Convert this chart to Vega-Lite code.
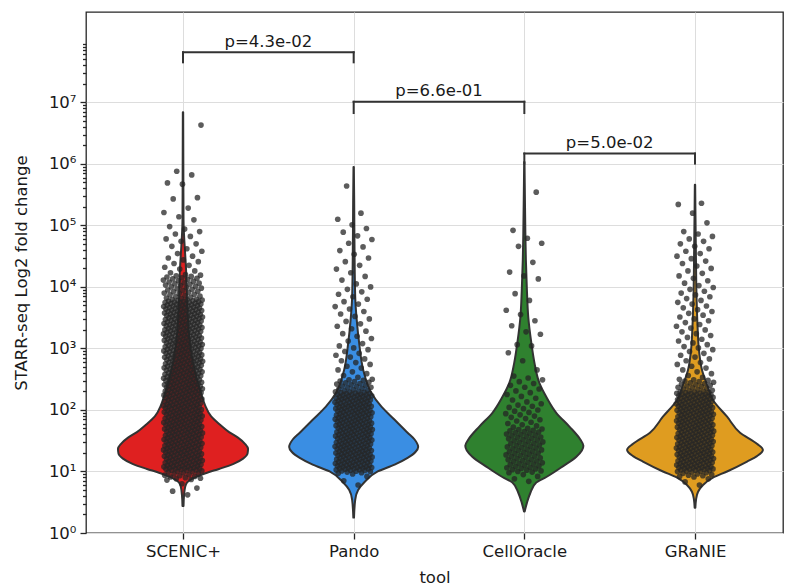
{
"$schema":"https://vega.github.io/schema/vega-lite/v6.json",
"width":697,"height":521,
"autosize":{"type":"none"},
"padding":{"left":86,"top":12,"right":3,"bottom":53},
"config":{
 "font":"DejaVu Sans",
 "view":{"stroke":"#262626","strokeWidth":1.3},
 "axis":{"labelFont":"DejaVu Sans","titleFont":"DejaVu Sans","labelFontSize":16.5,"titleFontSize":16.5,"titleFontWeight":"normal","labelColor":"#1a1a1a","titleColor":"#1a1a1a","tickColor":"#262626","tickWidth":1.3,"gridColor":"#dddddd","gridWidth":1,"domain":false}
},
"datasets":{
"violin":[
{"tool":"SCENIC+","fc":2.75,"half":0.003},{"tool":"SCENIC+","fc":4.07,"half":0.006},{"tool":"SCENIC+","fc":5.5,"half":0.012},{"tool":"SCENIC+","fc":6.61,"half":0.023},{"tool":"SCENIC+","fc":7.59,"half":0.053},{"tool":"SCENIC+","fc":8.51,"half":0.094},{"tool":"SCENIC+","fc":9.55,"half":0.141},{"tool":"SCENIC+","fc":11.0,"half":0.211},{"tool":"SCENIC+","fc":13.2,"half":0.293},{"tool":"SCENIC+","fc":16.2,"half":0.352},{"tool":"SCENIC+","fc":19.5,"half":0.378},{"tool":"SCENIC+","fc":23.4,"half":0.381},{"tool":"SCENIC+","fc":28.2,"half":0.363},{"tool":"SCENIC+","fc":35.5,"half":0.322},{"tool":"SCENIC+","fc":43.7,"half":0.27},{"tool":"SCENIC+","fc":57.5,"half":0.217},{"tool":"SCENIC+","fc":79.4,"half":0.164},{"tool":"SCENIC+","fc":120,"half":0.129},{"tool":"SCENIC+","fc":191,"half":0.105},{"tool":"SCENIC+","fc":309,"half":0.082},{"tool":"SCENIC+","fc":646,"half":0.056},{"tool":"SCENIC+","fc":1380,"half":0.038},{"tool":"SCENIC+","fc":4270,"half":0.026},{"tool":"SCENIC+","fc":18600,"half":0.018},{"tool":"SCENIC+","fc":123000,"half":0.003},{"tool":"SCENIC+","fc":794000,"half":0.002},{"tool":"SCENIC+","fc":6920000,"half":0.001},
{"tool":"Pando","fc":1.78,"half":0.002},{"tool":"Pando","fc":3.47,"half":0.009},{"tool":"Pando","fc":5.01,"half":0.026},{"tool":"Pando","fc":6.76,"half":0.064},{"tool":"Pando","fc":10,"half":0.141},{"tool":"Pando","fc":12.9,"half":0.24},{"tool":"Pando","fc":16.6,"half":0.316},{"tool":"Pando","fc":20.9,"half":0.363},{"tool":"Pando","fc":25.1,"half":0.378},{"tool":"Pando","fc":33.1,"half":0.357},{"tool":"Pando","fc":42.7,"half":0.316},{"tool":"Pando","fc":69.2,"half":0.24},{"tool":"Pando","fc":112,"half":0.164},{"tool":"Pando","fc":191,"half":0.103},{"tool":"Pando","fc":447,"half":0.056},{"tool":"Pando","fc":1230,"half":0.032},{"tool":"Pando","fc":2880,"half":0.018},{"tool":"Pando","fc":6920,"half":0.009},{"tool":"Pando","fc":39800,"half":0.005},{"tool":"Pando","fc":257000,"half":0.003},{"tool":"Pando","fc":891000,"half":0.001},
{"tool":"CellOracle","fc":2.24,"half":0.002},{"tool":"CellOracle","fc":3.09,"half":0.015},{"tool":"CellOracle","fc":4.47,"half":0.035},{"tool":"CellOracle","fc":6.61,"half":0.07},{"tool":"CellOracle","fc":8.13,"half":0.129},{"tool":"CellOracle","fc":12,"half":0.223},{"tool":"CellOracle","fc":17.4,"half":0.305},{"tool":"CellOracle","fc":21.9,"half":0.337},{"tool":"CellOracle","fc":26.3,"half":0.346},{"tool":"CellOracle","fc":33.1,"half":0.328},{"tool":"CellOracle","fc":53.7,"half":0.264},{"tool":"CellOracle","fc":89.1,"half":0.188},{"tool":"CellOracle","fc":162,"half":0.129},{"tool":"CellOracle","fc":275,"half":0.088},{"tool":"CellOracle","fc":589,"half":0.059},{"tool":"CellOracle","fc":1230,"half":0.041},{"tool":"CellOracle","fc":3240,"half":0.023},{"tool":"CellOracle","fc":8910,"half":0.015},{"tool":"CellOracle","fc":27500,"half":0.009},{"tool":"CellOracle","fc":75900,"half":0.006},{"tool":"CellOracle","fc":257000,"half":0.0035},{"tool":"CellOracle","fc":1070000,"half":0.001},
{"tool":"GRaNIE","fc":2.57,"half":0.002},{"tool":"GRaNIE","fc":3.47,"half":0.006},{"tool":"GRaNIE","fc":4.68,"half":0.018},{"tool":"GRaNIE","fc":6.03,"half":0.047},{"tool":"GRaNIE","fc":7.94,"half":0.105},{"tool":"GRaNIE","fc":10,"half":0.188},{"tool":"GRaNIE","fc":14.5,"half":0.305},{"tool":"GRaNIE","fc":17.8,"half":0.363},{"tool":"GRaNIE","fc":22.4,"half":0.398},{"tool":"GRaNIE","fc":28.2,"half":0.363},{"tool":"GRaNIE","fc":42.7,"half":0.264},{"tool":"GRaNIE","fc":77.6,"half":0.188},{"tool":"GRaNIE","fc":145,"half":0.105},{"tool":"GRaNIE","fc":257,"half":0.07},{"tool":"GRaNIE","fc":447,"half":0.041},{"tool":"GRaNIE","fc":955,"half":0.023},{"tool":"GRaNIE","fc":2240,"half":0.015},{"tool":"GRaNIE","fc":6920,"half":0.009},{"tool":"GRaNIE","fc":39800,"half":0.005},{"tool":"GRaNIE","fc":457000,"half":0.001}
],
"pts_scenic":[
{"fc":4.17},{"fc":4.79},{"fc":5.37},{"fc":6.31},{"fc":7.24},{"fc":7.41},{"fc":7.59},{"fc":7.76},{"fc":7.94},{"fc":8.13},{"fc":8.32},{"fc":8.51},{"fc":8.71},{"fc":8.91},{"fc":9.12},{"fc":9.33},{"fc":9.55},{"fc":9.77},{"fc":10.0},
{"fc":10.1},{"fc":10.2},{"fc":10.4},{"fc":10.5},{"fc":10.6},{"fc":10.7},{"fc":10.9},{"fc":11.0},{"fc":11.1},{"fc":11.2},{"fc":11.4},{"fc":11.5},{"fc":11.6},{"fc":11.7},{"fc":11.9},{"fc":12.0},{"fc":12.2},{"fc":12.3},{"fc":12.4},{"fc":12.6},
{"fc":12.7},{"fc":12.9},{"fc":13.0},{"fc":13.2},{"fc":13.3},{"fc":13.5},{"fc":13.7},{"fc":13.8},{"fc":14.0},{"fc":14.1},{"fc":14.3},{"fc":14.5},{"fc":14.6},{"fc":14.8},{"fc":15.0},{"fc":15.1},{"fc":15.3},{"fc":15.5},{"fc":15.7},{"fc":15.8},
{"fc":16.0},{"fc":16.2},{"fc":16.4},{"fc":16.6},{"fc":16.8},{"fc":17.0},{"fc":17.2},{"fc":17.4},{"fc":17.6},{"fc":17.8},{"fc":18.0},{"fc":18.2},{"fc":18.4},{"fc":18.6},{"fc":18.8},{"fc":19.1},{"fc":19.3},{"fc":19.5},{"fc":19.7},{"fc":20.0},
{"fc":20.2},{"fc":20.4},{"fc":20.7},{"fc":20.9},{"fc":21.1},{"fc":21.4},{"fc":21.6},{"fc":21.9},{"fc":22.1},{"fc":22.4},{"fc":22.6},{"fc":22.9},{"fc":23.2},{"fc":23.4},{"fc":23.7},{"fc":24.0},{"fc":24.3},{"fc":24.5},{"fc":24.8},{"fc":25.1},
{"fc":25.4},{"fc":25.7},{"fc":26.0},{"fc":26.3},{"fc":26.6},{"fc":26.9},{"fc":27.2},{"fc":27.5},{"fc":27.9},{"fc":28.2},{"fc":28.5},{"fc":28.8},{"fc":29.2},{"fc":29.5},{"fc":29.9},{"fc":30.2},{"fc":30.6},{"fc":30.9},{"fc":31.3},{"fc":31.6},
{"fc":32.0},{"fc":32.4},{"fc":32.7},{"fc":33.1},{"fc":33.5},{"fc":33.9},{"fc":34.3},{"fc":34.7},{"fc":35.1},{"fc":35.5},{"fc":35.9},{"fc":36.3},{"fc":36.7},{"fc":37.2},{"fc":37.6},{"fc":38.0},{"fc":38.5},{"fc":38.9},{"fc":39.4},{"fc":39.8},
{"fc":40.3},{"fc":40.7},{"fc":41.2},{"fc":41.7},{"fc":42.2},{"fc":42.7},{"fc":43.2},{"fc":43.7},{"fc":44.2},{"fc":44.7},{"fc":45.2},{"fc":45.7},{"fc":46.3},{"fc":46.8},{"fc":47.4},{"fc":47.9},{"fc":48.5},{"fc":49.0},{"fc":49.6},{"fc":50.1},
{"fc":50.7},{"fc":51.3},{"fc":51.9},{"fc":52.5},{"fc":53.1},{"fc":53.7},{"fc":54.3},{"fc":55.0},{"fc":55.6},{"fc":56.2},{"fc":56.9},{"fc":57.5},{"fc":58.2},{"fc":58.9},{"fc":59.6},{"fc":60.3},{"fc":61.0},{"fc":61.7},{"fc":62.4},{"fc":63.1},
{"fc":63.8},{"fc":64.6},{"fc":65.3},{"fc":66.1},{"fc":66.8},{"fc":67.6},{"fc":68.4},{"fc":69.2},{"fc":70.0},{"fc":70.8},{"fc":71.6},{"fc":72.4},{"fc":73.3},{"fc":74.1},{"fc":75.0},{"fc":75.9},{"fc":76.7},{"fc":77.6},{"fc":78.5},{"fc":79.4},
{"fc":80.4},{"fc":81.3},{"fc":82.2},{"fc":83.2},{"fc":84.1},{"fc":85.1},{"fc":86.1},{"fc":87.1},{"fc":88.1},{"fc":89.1},{"fc":90.2},{"fc":91.2},{"fc":92.3},{"fc":93.3},{"fc":94.4},{"fc":95.5},{"fc":96.6},{"fc":97.7},{"fc":98.9},{"fc":100},
{"fc":101},{"fc":102},{"fc":104},{"fc":105},{"fc":106},{"fc":107},{"fc":109},{"fc":110},{"fc":111},{"fc":112},{"fc":114},{"fc":115},{"fc":116},{"fc":117},{"fc":119},{"fc":120},{"fc":122},{"fc":123},{"fc":124},{"fc":126},
{"fc":127},{"fc":129},{"fc":130},{"fc":132},{"fc":133},{"fc":135},{"fc":137},{"fc":138},{"fc":140},{"fc":141},{"fc":143},{"fc":145},{"fc":146},{"fc":148},{"fc":150},{"fc":151},{"fc":153},{"fc":155},{"fc":157},{"fc":158},
{"fc":160},{"fc":162},{"fc":164},{"fc":166},{"fc":168},{"fc":170},{"fc":172},{"fc":174},{"fc":176},{"fc":178},{"fc":180},{"fc":182},{"fc":184},{"fc":186},{"fc":188},{"fc":191},{"fc":193},{"fc":195},{"fc":197},{"fc":200},
{"fc":202},{"fc":204},{"fc":207},{"fc":209},{"fc":211},{"fc":214},{"fc":216},{"fc":219},{"fc":221},{"fc":224},{"fc":226},{"fc":229},{"fc":232},{"fc":234},{"fc":237},{"fc":240},{"fc":243},{"fc":245},{"fc":248},{"fc":251},
{"fc":254},{"fc":257},{"fc":260},{"fc":263},{"fc":266},{"fc":269},{"fc":272},{"fc":275},{"fc":279},{"fc":282},{"fc":285},{"fc":288},{"fc":292},{"fc":295},{"fc":299},{"fc":302},{"fc":306},{"fc":309},{"fc":313},{"fc":316},
{"fc":320},{"fc":324},{"fc":327},{"fc":331},{"fc":335},{"fc":339},{"fc":343},{"fc":347},{"fc":351},{"fc":355},{"fc":359},{"fc":363},{"fc":367},{"fc":372},{"fc":376},{"fc":380},{"fc":385},{"fc":389},{"fc":394},{"fc":398},
{"fc":403},{"fc":407},{"fc":412},{"fc":417},{"fc":422},{"fc":427},{"fc":432},{"fc":437},{"fc":442},{"fc":447},{"fc":452},{"fc":457},{"fc":463},{"fc":468},{"fc":474},{"fc":479},{"fc":485},{"fc":490},{"fc":496},{"fc":501},
{"fc":507},{"fc":513},{"fc":519},{"fc":525},{"fc":531},{"fc":537},{"fc":543},{"fc":550},{"fc":556},{"fc":562},{"fc":569},{"fc":575},{"fc":582},{"fc":589},{"fc":596},{"fc":603},{"fc":610},{"fc":617},{"fc":624},{"fc":631},
{"fc":638},{"fc":646},{"fc":653},{"fc":661},{"fc":668},{"fc":676},{"fc":684},{"fc":692},{"fc":700},{"fc":708},{"fc":716},{"fc":724},{"fc":733},{"fc":741},{"fc":750},{"fc":759},{"fc":767},{"fc":776},{"fc":785},{"fc":794},
{"fc":804},{"fc":813},{"fc":822},{"fc":832},{"fc":841},{"fc":851},{"fc":861},{"fc":871},{"fc":881},{"fc":891},{"fc":902},{"fc":912},{"fc":923},{"fc":933},{"fc":944},{"fc":955},{"fc":966},{"fc":977},{"fc":989},{"fc":1000},
{"fc":1010},{"fc":1020},{"fc":1040},{"fc":1050},{"fc":1060},{"fc":1070},{"fc":1090},{"fc":1100},{"fc":1110},{"fc":1120},{"fc":1140},{"fc":1150},{"fc":1160},{"fc":1170},{"fc":1190},{"fc":1200},{"fc":1220},{"fc":1230},{"fc":1240},{"fc":1260},
{"fc":1270},{"fc":1290},{"fc":1300},{"fc":1320},{"fc":1330},{"fc":1350},{"fc":1370},{"fc":1380},{"fc":1400},{"fc":1410},{"fc":1430},{"fc":1450},{"fc":1460},{"fc":1480},{"fc":1500},{"fc":1510},{"fc":1530},{"fc":1550},{"fc":1570},{"fc":1580},
{"fc":1600},{"fc":1620},{"fc":1640},{"fc":1660},{"fc":1680},{"fc":1700},{"fc":1720},{"fc":1740},{"fc":1760},{"fc":1780},{"fc":1800},{"fc":1820},{"fc":1840},{"fc":1860},{"fc":1880},{"fc":1910},{"fc":1930},{"fc":1950},{"fc":1970},{"fc":2000},
{"fc":2020},{"fc":2040},{"fc":2070},{"fc":2090},{"fc":2110},{"fc":2140},{"fc":2160},{"fc":2190},{"fc":2210},{"fc":2240},{"fc":2260},{"fc":2290},{"fc":2320},{"fc":2340},{"fc":2370},{"fc":2400},{"fc":2430},{"fc":2450},{"fc":2480},{"fc":2510},
{"fc":2540},{"fc":2570},{"fc":2600},{"fc":2630},{"fc":2660},{"fc":2690},{"fc":2720},{"fc":2750},{"fc":2790},{"fc":2820},{"fc":2850},{"fc":2880},{"fc":2920},{"fc":2950},{"fc":2990},{"fc":3020},{"fc":3060},{"fc":3090},{"fc":3130},{"fc":3160},
{"fc":3200},{"fc":3240},{"fc":3270},{"fc":3310},{"fc":3350},{"fc":3390},{"fc":3430},{"fc":3470},{"fc":3510},{"fc":3550},{"fc":3590},{"fc":3630},{"fc":3670},{"fc":3720},{"fc":3760},{"fc":3800},{"fc":3850},{"fc":3890},{"fc":3940},{"fc":3980},
{"fc":4030},{"fc":4070},{"fc":4120},{"fc":4170},{"fc":4220},{"fc":4270},{"fc":4320},{"fc":4370},{"fc":4420},{"fc":4470},{"fc":4520},{"fc":4570},{"fc":4630},{"fc":4680},{"fc":4740},{"fc":4790},{"fc":4850},{"fc":4900},{"fc":4960},{"fc":5010},
{"fc":5070},{"fc":5130},{"fc":5190},{"fc":5250},{"fc":5310},{"fc":5370},{"fc":5430},{"fc":5500},{"fc":5560},{"fc":5620},{"fc":5690},{"fc":5750},{"fc":5820},{"fc":5890},{"fc":5960},{"fc":6030},{"fc":6100},{"fc":6170},{"fc":6240},{"fc":6310},
{"fc":6460},{"fc":6610},{"fc":6760},{"fc":6920},{"fc":7080},{"fc":7240},{"fc":7410},{"fc":7590},{"fc":7760},{"fc":7940},{"fc":8130},{"fc":8320},{"fc":8510},{"fc":8710},{"fc":8910},{"fc":9120},{"fc":9330},{"fc":9550},{"fc":9770},{"fc":10000},
{"fc":10200},{"fc":10500},{"fc":10700},{"fc":11000},{"fc":11200},{"fc":11500},{"fc":11700},{"fc":12000},{"fc":12300},{"fc":12600},{"fc":12900},{"fc":13200},{"fc":13500},{"fc":13800},{"fc":14100},{"fc":14500},{"fc":14800},{"fc":15100},{"fc":15500},{"fc":15800},
{"fc":17000},{"fc":18200},{"fc":19500},{"fc":20900},{"fc":22400},{"fc":24000},{"fc":25700},{"fc":27500},{"fc":29500},{"fc":31600},
{"fc":34700},{"fc":38000},{"fc":41700},{"fc":45700},{"fc":50100},{"fc":55000},{"fc":60300},{"fc":66100},{"fc":72400},{"fc":79400},{"fc":87100},{"fc":95500},
{"fc":123000},{"fc":138000},{"fc":162000},{"fc":191000},{"fc":269000},{"fc":282000},{"fc":468000},{"fc":490000},{"fc":661000},{"fc":759000},{"fc":4270000}
],
"pts_pando":[
{"fc":6.03},{"fc":7.08},{"fc":8.32},{"fc":9.12},{"fc":9.33},{"fc":9.55},{"fc":9.77},{"fc":10.0},
{"fc":10.1},{"fc":10.2},{"fc":10.4},{"fc":10.5},{"fc":10.6},{"fc":10.7},{"fc":10.9},{"fc":11.0},{"fc":11.1},{"fc":11.2},{"fc":11.4},{"fc":11.5},{"fc":11.6},{"fc":11.7},{"fc":11.9},{"fc":12.0},{"fc":12.2},{"fc":12.3},{"fc":12.4},{"fc":12.6},
{"fc":12.7},{"fc":12.9},{"fc":13.0},{"fc":13.2},{"fc":13.3},{"fc":13.5},{"fc":13.7},{"fc":13.8},{"fc":14.0},{"fc":14.1},{"fc":14.3},{"fc":14.5},{"fc":14.6},{"fc":14.8},{"fc":15.0},{"fc":15.1},{"fc":15.3},{"fc":15.5},{"fc":15.7},{"fc":15.8},
{"fc":16.0},{"fc":16.2},{"fc":16.4},{"fc":16.6},{"fc":16.8},{"fc":17.0},{"fc":17.2},{"fc":17.4},{"fc":17.6},{"fc":17.8},{"fc":18.0},{"fc":18.2},{"fc":18.4},{"fc":18.6},{"fc":18.8},{"fc":19.1},{"fc":19.3},{"fc":19.5},{"fc":19.7},{"fc":20.0},
{"fc":20.2},{"fc":20.4},{"fc":20.7},{"fc":20.9},{"fc":21.1},{"fc":21.4},{"fc":21.6},{"fc":21.9},{"fc":22.1},{"fc":22.4},{"fc":22.6},{"fc":22.9},{"fc":23.2},{"fc":23.4},{"fc":23.7},{"fc":24.0},{"fc":24.3},{"fc":24.5},{"fc":24.8},{"fc":25.1},
{"fc":25.4},{"fc":25.7},{"fc":26.0},{"fc":26.3},{"fc":26.6},{"fc":26.9},{"fc":27.2},{"fc":27.5},{"fc":27.9},{"fc":28.2},{"fc":28.5},{"fc":28.8},{"fc":29.2},{"fc":29.5},{"fc":29.9},{"fc":30.2},{"fc":30.6},{"fc":30.9},{"fc":31.3},{"fc":31.6},
{"fc":32.0},{"fc":32.4},{"fc":32.7},{"fc":33.1},{"fc":33.5},{"fc":33.9},{"fc":34.3},{"fc":34.7},{"fc":35.1},{"fc":35.5},{"fc":35.9},{"fc":36.3},{"fc":36.7},{"fc":37.2},{"fc":37.6},{"fc":38.0},{"fc":38.5},{"fc":38.9},{"fc":39.4},{"fc":39.8},
{"fc":40.3},{"fc":40.7},{"fc":41.2},{"fc":41.7},{"fc":42.2},{"fc":42.7},{"fc":43.2},{"fc":43.7},{"fc":44.2},{"fc":44.7},{"fc":45.2},{"fc":45.7},{"fc":46.3},{"fc":46.8},{"fc":47.4},{"fc":47.9},{"fc":48.5},{"fc":49.0},{"fc":49.6},{"fc":50.1},
{"fc":50.7},{"fc":51.3},{"fc":51.9},{"fc":52.5},{"fc":53.1},{"fc":53.7},{"fc":54.3},{"fc":55.0},{"fc":55.6},{"fc":56.2},{"fc":56.9},{"fc":57.5},{"fc":58.2},{"fc":58.9},{"fc":59.6},{"fc":60.3},{"fc":61.0},{"fc":61.7},{"fc":62.4},{"fc":63.1},
{"fc":63.8},{"fc":64.6},{"fc":65.3},{"fc":66.1},{"fc":66.8},{"fc":67.6},{"fc":68.4},{"fc":69.2},{"fc":70.0},{"fc":70.8},{"fc":71.6},{"fc":72.4},{"fc":73.3},{"fc":74.1},{"fc":75.0},{"fc":75.9},{"fc":76.7},{"fc":77.6},{"fc":78.5},{"fc":79.4},
{"fc":80.4},{"fc":81.3},{"fc":82.2},{"fc":83.2},{"fc":84.1},{"fc":85.1},{"fc":86.1},{"fc":87.1},{"fc":88.1},{"fc":89.1},{"fc":90.2},{"fc":91.2},{"fc":92.3},{"fc":93.3},{"fc":94.4},{"fc":95.5},{"fc":96.6},{"fc":97.7},{"fc":98.9},{"fc":100},
{"fc":101},{"fc":102},{"fc":104},{"fc":105},{"fc":106},{"fc":107},{"fc":109},{"fc":110},{"fc":111},{"fc":112},{"fc":114},{"fc":115},{"fc":116},{"fc":117},{"fc":119},{"fc":120},{"fc":122},{"fc":123},{"fc":124},{"fc":126},
{"fc":127},{"fc":129},{"fc":130},{"fc":132},{"fc":133},{"fc":135},{"fc":137},{"fc":138},{"fc":140},{"fc":141},{"fc":143},{"fc":145},{"fc":146},{"fc":148},{"fc":150},{"fc":151},{"fc":153},{"fc":155},{"fc":157},{"fc":158},
{"fc":160},{"fc":162},{"fc":164},{"fc":166},{"fc":168},{"fc":170},{"fc":172},{"fc":174},{"fc":176},{"fc":178},{"fc":180},{"fc":182},{"fc":184},{"fc":186},{"fc":188},{"fc":191},{"fc":193},{"fc":195},{"fc":197},{"fc":200},
{"fc":204},{"fc":209},{"fc":214},{"fc":219},{"fc":224},{"fc":229},{"fc":234},{"fc":240},{"fc":245},{"fc":251},{"fc":257},{"fc":263},{"fc":269},{"fc":275},{"fc":282},{"fc":288},{"fc":295},{"fc":302},{"fc":309},{"fc":316},
{"fc":339},{"fc":363},{"fc":389},{"fc":417},{"fc":447},{"fc":479},{"fc":513},{"fc":550},{"fc":589},{"fc":631},{"fc":676},{"fc":724},{"fc":776},{"fc":832},{"fc":891},{"fc":955},{"fc":1020},
{"fc":1100},{"fc":1200},{"fc":1320},{"fc":1450},{"fc":1580},{"fc":1740},{"fc":1910},{"fc":2090},{"fc":2290},{"fc":2510},{"fc":2750},{"fc":3020},{"fc":3310},{"fc":3630},{"fc":3980},{"fc":4370},{"fc":4790},{"fc":5250},{"fc":5750},{"fc":6310},{"fc":6920},{"fc":7590},{"fc":8320},{"fc":9120},{"fc":10000},
{"fc":11200},{"fc":12900},{"fc":14800},{"fc":17000},{"fc":19500},{"fc":22400},{"fc":25700},{"fc":29500},{"fc":33900},{"fc":38900},{"fc":44700},{"fc":51300},{"fc":58900},{"fc":67600},{"fc":77600},{"fc":89100},{"fc":102000},
{"fc":126000},{"fc":158000},{"fc":437000}
],
"pts_celloracle":[
{"fc":6.92},{"fc":7.59},{"fc":8.32},{"fc":8.91},
{"fc":9.55},{"fc":9.77},{"fc":10.0},{"fc":10.2},{"fc":10.5},{"fc":10.7},{"fc":11.0},{"fc":11.2},{"fc":11.5},{"fc":11.7},{"fc":12.0},{"fc":12.3},{"fc":12.6},{"fc":12.9},{"fc":13.2},{"fc":13.5},{"fc":13.8},{"fc":14.1},{"fc":14.5},{"fc":14.8},{"fc":15.1},{"fc":15.5},{"fc":15.8},{"fc":16.2},{"fc":16.6},{"fc":17.0},{"fc":17.4},{"fc":17.8},{"fc":18.2},{"fc":18.6},{"fc":19.1},{"fc":19.5},{"fc":20.0},{"fc":20.4},{"fc":20.9},{"fc":21.4},{"fc":21.9},{"fc":22.4},{"fc":22.9},{"fc":23.4},{"fc":24.0},{"fc":24.5},{"fc":25.1},{"fc":25.7},{"fc":26.3},{"fc":26.9},{"fc":27.5},{"fc":28.2},{"fc":28.8},{"fc":29.5},{"fc":30.2},{"fc":30.9},{"fc":31.6},{"fc":32.4},{"fc":33.1},{"fc":33.9},{"fc":34.7},{"fc":35.5},{"fc":36.3},{"fc":37.2},{"fc":38.0},{"fc":38.9},{"fc":39.8},{"fc":40.7},{"fc":41.7},{"fc":42.7},{"fc":43.7},{"fc":44.7},{"fc":45.7},{"fc":46.8},{"fc":47.9},{"fc":49.0},{"fc":50.1},
{"fc":52.5},{"fc":55.0},{"fc":57.5},{"fc":60.3},{"fc":63.1},{"fc":66.1},{"fc":69.2},{"fc":72.4},{"fc":75.9},{"fc":79.4},{"fc":83.2},{"fc":87.1},{"fc":91.2},{"fc":95.5},{"fc":100},{"fc":105},{"fc":110},{"fc":115},{"fc":120},{"fc":126},
{"fc":135},{"fc":145},{"fc":155},{"fc":166},{"fc":178},{"fc":191},{"fc":204},{"fc":219},{"fc":234},{"fc":251},{"fc":269},{"fc":288},{"fc":309},{"fc":331},{"fc":355},
{"fc":447},{"fc":631},{"fc":851},
{"fc":1100},{"fc":1150},{"fc":1700},{"fc":1860},{"fc":2340},{"fc":2820},{"fc":3550},{"fc":4170},{"fc":6030},{"fc":7760},
{"fc":13500},{"fc":15100},{"fc":17400},{"fc":25100},{"fc":45700},{"fc":51300},{"fc":61700},{"fc":83200},
{"fc":347000}
],
"pts_granie":[
{"fc":6.03},{"fc":6.76},{"fc":7.59},{"fc":8.13},{"fc":8.32},{"fc":8.51},{"fc":8.71},{"fc":8.91},{"fc":9.12},{"fc":9.33},{"fc":9.55},{"fc":9.77},{"fc":10.0},
{"fc":10.1},{"fc":10.2},{"fc":10.4},{"fc":10.5},{"fc":10.6},{"fc":10.7},{"fc":10.9},{"fc":11.0},{"fc":11.1},{"fc":11.2},{"fc":11.4},{"fc":11.5},{"fc":11.6},{"fc":11.7},{"fc":11.9},{"fc":12.0},{"fc":12.2},{"fc":12.3},{"fc":12.4},{"fc":12.6},
{"fc":12.7},{"fc":12.9},{"fc":13.0},{"fc":13.2},{"fc":13.3},{"fc":13.5},{"fc":13.7},{"fc":13.8},{"fc":14.0},{"fc":14.1},{"fc":14.3},{"fc":14.5},{"fc":14.6},{"fc":14.8},{"fc":15.0},{"fc":15.1},{"fc":15.3},{"fc":15.5},{"fc":15.7},{"fc":15.8},
{"fc":16.0},{"fc":16.2},{"fc":16.4},{"fc":16.6},{"fc":16.8},{"fc":17.0},{"fc":17.2},{"fc":17.4},{"fc":17.6},{"fc":17.8},{"fc":18.0},{"fc":18.2},{"fc":18.4},{"fc":18.6},{"fc":18.8},{"fc":19.1},{"fc":19.3},{"fc":19.5},{"fc":19.7},{"fc":20.0},
{"fc":20.2},{"fc":20.4},{"fc":20.7},{"fc":20.9},{"fc":21.1},{"fc":21.4},{"fc":21.6},{"fc":21.9},{"fc":22.1},{"fc":22.4},{"fc":22.6},{"fc":22.9},{"fc":23.2},{"fc":23.4},{"fc":23.7},{"fc":24.0},{"fc":24.3},{"fc":24.5},{"fc":24.8},{"fc":25.1},
{"fc":25.4},{"fc":25.7},{"fc":26.0},{"fc":26.3},{"fc":26.6},{"fc":26.9},{"fc":27.2},{"fc":27.5},{"fc":27.9},{"fc":28.2},{"fc":28.5},{"fc":28.8},{"fc":29.2},{"fc":29.5},{"fc":29.9},{"fc":30.2},{"fc":30.6},{"fc":30.9},{"fc":31.3},{"fc":31.6},
{"fc":32.0},{"fc":32.4},{"fc":32.7},{"fc":33.1},{"fc":33.5},{"fc":33.9},{"fc":34.3},{"fc":34.7},{"fc":35.1},{"fc":35.5},{"fc":35.9},{"fc":36.3},{"fc":36.7},{"fc":37.2},{"fc":37.6},{"fc":38.0},{"fc":38.5},{"fc":38.9},{"fc":39.4},{"fc":39.8},
{"fc":40.3},{"fc":40.7},{"fc":41.2},{"fc":41.7},{"fc":42.2},{"fc":42.7},{"fc":43.2},{"fc":43.7},{"fc":44.2},{"fc":44.7},{"fc":45.2},{"fc":45.7},{"fc":46.3},{"fc":46.8},{"fc":47.4},{"fc":47.9},{"fc":48.5},{"fc":49.0},{"fc":49.6},{"fc":50.1},
{"fc":50.7},{"fc":51.3},{"fc":51.9},{"fc":52.5},{"fc":53.1},{"fc":53.7},{"fc":54.3},{"fc":55.0},{"fc":55.6},{"fc":56.2},{"fc":56.9},{"fc":57.5},{"fc":58.2},{"fc":58.9},{"fc":59.6},{"fc":60.3},{"fc":61.0},{"fc":61.7},{"fc":62.4},{"fc":63.1},
{"fc":63.8},{"fc":64.6},{"fc":65.3},{"fc":66.1},{"fc":66.8},{"fc":67.6},{"fc":68.4},{"fc":69.2},{"fc":70.0},{"fc":70.8},{"fc":71.6},{"fc":72.4},{"fc":73.3},{"fc":74.1},{"fc":75.0},{"fc":75.9},{"fc":76.7},{"fc":77.6},{"fc":78.5},{"fc":79.4},
{"fc":80.4},{"fc":81.3},{"fc":82.2},{"fc":83.2},{"fc":84.1},{"fc":85.1},{"fc":86.1},{"fc":87.1},{"fc":88.1},{"fc":89.1},{"fc":90.2},{"fc":91.2},{"fc":92.3},{"fc":93.3},{"fc":94.4},{"fc":95.5},{"fc":96.6},{"fc":97.7},{"fc":98.9},{"fc":100},
{"fc":101},{"fc":102},{"fc":104},{"fc":105},{"fc":106},{"fc":107},{"fc":109},{"fc":110},{"fc":111},{"fc":112},{"fc":114},{"fc":115},{"fc":116},{"fc":117},{"fc":119},{"fc":120},{"fc":122},{"fc":123},{"fc":124},{"fc":126},
{"fc":127},{"fc":129},{"fc":130},{"fc":132},{"fc":133},{"fc":135},{"fc":137},{"fc":138},{"fc":140},{"fc":141},{"fc":143},{"fc":145},{"fc":146},{"fc":148},{"fc":150},{"fc":151},{"fc":153},{"fc":155},{"fc":157},{"fc":158},
{"fc":160},{"fc":162},{"fc":164},{"fc":166},{"fc":168},{"fc":170},{"fc":172},{"fc":174},{"fc":176},{"fc":178},{"fc":180},{"fc":182},{"fc":184},{"fc":186},{"fc":188},{"fc":191},{"fc":193},{"fc":195},{"fc":197},{"fc":200},
{"fc":204},{"fc":209},{"fc":214},{"fc":219},{"fc":224},{"fc":229},{"fc":234},{"fc":240},{"fc":245},{"fc":251},{"fc":257},{"fc":263},{"fc":269},{"fc":275},{"fc":282},{"fc":288},{"fc":295},{"fc":302},{"fc":309},{"fc":316},
{"fc":339},{"fc":363},{"fc":389},{"fc":417},{"fc":447},{"fc":479},{"fc":513},{"fc":550},{"fc":589},{"fc":631},{"fc":676},{"fc":724},{"fc":776},{"fc":832},{"fc":891},{"fc":955},{"fc":1020},
{"fc":1070},{"fc":1150},{"fc":1230},{"fc":1320},{"fc":1410},{"fc":1510},{"fc":1620},{"fc":1740},{"fc":1860},{"fc":2000},{"fc":2140},{"fc":2290},{"fc":2450},{"fc":2630},{"fc":2820},{"fc":3020},{"fc":3240},{"fc":3470},{"fc":3720},{"fc":3980},{"fc":4270},{"fc":4570},{"fc":4900},{"fc":5250},{"fc":5620},{"fc":6030},{"fc":6460},{"fc":6920},{"fc":7410},{"fc":7940},{"fc":8510},{"fc":9120},{"fc":9770},{"fc":10500},
{"fc":11500},{"fc":12600},{"fc":13800},{"fc":15100},{"fc":16600},{"fc":18200},{"fc":20000},{"fc":21900},{"fc":24000},{"fc":26300},{"fc":28800},{"fc":31600},{"fc":34700},{"fc":38000},{"fc":41700},{"fc":45700},{"fc":50100},{"fc":55000},{"fc":60300},{"fc":66100},{"fc":72400},{"fc":79400},
{"fc":110000},{"fc":158000},{"fc":219000},{"fc":229000}
],
"brackets":[
{"from":"SCENIC+","to":"Pando","top":65000000,"bottom":44700000,"label":"p=4.3e-02"},
{"from":"Pando","to":"CellOracle","top":10200000,"bottom":6700000,"label":"p=6.6e-01"},
{"from":"CellOracle","to":"GRaNIE","top":1470000,"bottom":1010000,"label":"p=5.0e-02"}
]
},
"layer":[
{
 "data":{"name":"violin"},
 "transform":[
  {"calculate":"indexof(['SCENIC+','Pando','CellOracle','GRaNIE'], datum.tool)","as":"pos"},
  {"calculate":"datum.pos - datum.half","as":"left"},
  {"calculate":"datum.pos + datum.half","as":"right"}
 ],
 "mark":{"type":"area","orient":"horizontal","interpolate":"monotone","stroke":"#333333","strokeWidth":2,"fillOpacity":1,"strokeJoin":"round"},
 "encoding":{
  "y":{"field":"fc","type":"quantitative","scale":{"type":"log","domain":[1,294000000],"nice":false},
   "axis":{"title":"STARR-seq Log2 fold change","titlePadding":19,"labelPadding":4,"labelOverlap":false,"labelFlush":false,"grid":true,
    "values":[1,2,3,4,5,6,7,8,9,10,20,30,40,50,60,70,80,90,100,200,300,400,500,600,700,800,900,1000,2000,3000,4000,5000,6000,7000,8000,9000,10000,20000,30000,40000,50000,60000,70000,80000,90000,100000,200000,300000,400000,500000,600000,700000,800000,900000,1000000,2000000,3000000,4000000,5000000,6000000,7000000,8000000,9000000,10000000,20000000,30000000,40000000,50000000,60000000,70000000,80000000,90000000],
    "labelExpr":"abs(log(datum.value)/LN10 - round(log(datum.value)/LN10)) > 0.001 ? '' : '10' + ['⁰','¹','²','³','⁴','⁵','⁶','⁷','⁸'][round(log(datum.value)/LN10)]",
    "gridOpacity":{"condition":{"test":"abs(log(datum.value)/LN10 - round(log(datum.value)/LN10)) > 0.001","value":0},"value":1},
    "tickSize":{"condition":{"test":"abs(log(datum.value)/LN10 - round(log(datum.value)/LN10)) > 0.001","value":3.5},"value":6}
   }},
  "x":{"field":"left","type":"quantitative","stack":null,"scale":{"domain":[-0.5684,3.5156],"nice":false,"zero":false},
   "axis":{"title":"tool","values":[0,1,2,3],"labelExpr":"['SCENIC+','Pando','CellOracle','GRaNIE'][datum.value]","tickSize":6,"labelPadding":4,"titlePadding":10,"grid":true}},
  "x2":{"field":"right"},
  "color":{"field":"tool","type":"nominal","scale":{"domain":["SCENIC+","Pando","CellOracle","GRaNIE"],"range":["#df2020","#3a8ee3","#2f812f","#df9c20"]},"legend":null}
 }
},
{
 "data":{"name":"pts_scenic"},
 "transform":[{"window":[{"op":"row_number","as":"rank"}]},{"calculate":"0 + ((datum.rank * 0.6180339887) % 1 - 0.5) * 0.23","as":"jx"}],
 "mark":{"type":"circle","size":32,"color":"#262626","opacity":0.75},
 "encoding":{"x":{"field":"jx","type":"quantitative"},"y":{"field":"fc","type":"quantitative"}}
},
{
 "data":{"name":"pts_pando"},
 "transform":[{"window":[{"op":"row_number","as":"rank"}]},{"calculate":"1 + ((datum.rank * 0.6180339887) % 1 - 0.5) * 0.22","as":"jx"}],
 "mark":{"type":"circle","size":32,"color":"#262626","opacity":0.75},
 "encoding":{"x":{"field":"jx","type":"quantitative"},"y":{"field":"fc","type":"quantitative"}}
},
{
 "data":{"name":"pts_celloracle"},
 "transform":[{"window":[{"op":"row_number","as":"rank"}]},{"calculate":"2 + ((datum.rank * 0.6180339887) % 1 - 0.5) * 0.22","as":"jx"}],
 "mark":{"type":"circle","size":32,"color":"#262626","opacity":0.75},
 "encoding":{"x":{"field":"jx","type":"quantitative"},"y":{"field":"fc","type":"quantitative"}}
},
{
 "data":{"name":"pts_granie"},
 "transform":[{"window":[{"op":"row_number","as":"rank"}]},{"calculate":"3 + ((datum.rank * 0.6180339887) % 1 - 0.5) * 0.22","as":"jx"}],
 "mark":{"type":"circle","size":32,"color":"#262626","opacity":0.75},
 "encoding":{"x":{"field":"jx","type":"quantitative"},"y":{"field":"fc","type":"quantitative"}}
},
{
 "data":{"name":"brackets"},
 "transform":[
  {"calculate":"indexof(['SCENIC+','Pando','CellOracle','GRaNIE'], datum.from)","as":"xa"},
  {"calculate":"indexof(['SCENIC+','Pando','CellOracle','GRaNIE'], datum.to)","as":"xb"},
  {"calculate":"(datum.xa + datum.xb) / 2","as":"xm"}
 ],
 "layer":[
  {"mark":{"type":"rule","color":"#333333","strokeWidth":2,"strokeCap":"square"},
   "encoding":{"x":{"field":"xa","type":"quantitative"},"x2":{"field":"xb"},"y":{"field":"top","type":"quantitative"}}},
  {"mark":{"type":"rule","color":"#333333","strokeWidth":2,"strokeCap":"square"},
   "encoding":{"x":{"field":"xa","type":"quantitative"},"y":{"field":"top","type":"quantitative"},"y2":{"field":"bottom"}}},
  {"mark":{"type":"rule","color":"#333333","strokeWidth":2,"strokeCap":"square"},
   "encoding":{"x":{"field":"xb","type":"quantitative"},"y":{"field":"top","type":"quantitative"},"y2":{"field":"bottom"}}},
  {"mark":{"type":"text","fontSize":16.5,"font":"DejaVu Sans","color":"#1a1a1a","align":"center","baseline":"alphabetic","dy":-5.5},
   "encoding":{"x":{"field":"xm","type":"quantitative"},"y":{"field":"top","type":"quantitative"},"text":{"field":"label"}}}
 ]
}
]
}
